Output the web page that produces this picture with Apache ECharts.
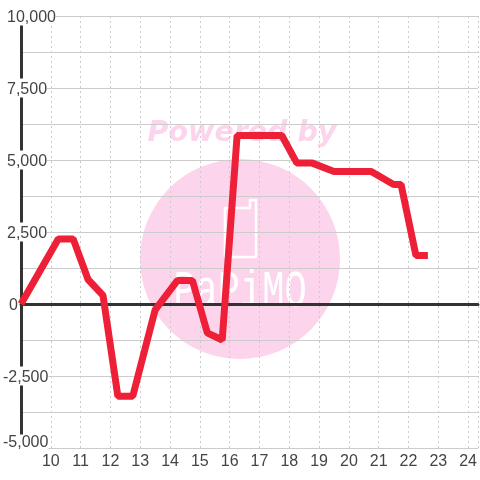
<!DOCTYPE html>
<html>
<head>
<meta charset="utf-8">
<style>html,body{margin:0;padding:0;background:#fff}#chart{width:480px;height:480px}</style>
<script src="https://cdn.jsdelivr.net/npm/echarts@6/dist/echarts.min.js"></script>
</head>
<body>
<div id="chart"></div>
<script>
var hours = [9, 10.25, 10.75, 11.25, 11.75, 12.25, 12.75, 13.5, 14.25, 14.75, 15.25, 15.75, 16.25, 17.75, 18.25, 18.75, 19.5, 20.75, 21.5, 21.75, 22.25, 22.65];
var values = [0, 2260, 2260, 850, 300, -3200, -3200, -200, 820, 820, -1000, -1250, 5850, 5850, 4900, 4900, 4600, 4600, 4150, 4150, 1680, 1680];
var watermarkText = 'Powered by';
var logoText = 'PaPiMO';

var points = [];
for (var i = 0; i < hours.length; i++) {
	points.push([hours[i], values[i]]);
}

function yLabel(v) {
	if (v % 2500 !== 0) return '';
	var s = Math.abs(v).toString().replace(/\B(?=(\d{3})+$)/g, ',');
	if (v === -5000) return '{low|-' + s + '}';
	if (v < 0) return '{neg|-' + s + '}';
	if (v === 0) return '{zero|0}';
	return '{pos|' + s + '}';
}

var labelBase = {fontSize: 16, fontFamily: 'Liberation Sans', color: '#444', backgroundColor: '#fff', height: 16, lineHeight: 16};

var option = {
	animation: false,
	backgroundColor: '#fff',
	grid: {left: 20, right: 0, top: 16, bottom: 32},
	xAxis: [{
		type: 'value', min: 9, max: 24.33, interval: 1,
		axisLine: {show: false, onZero: false},
		axisTick: {show: false},
		axisLabel: {
			fontSize: 16, fontFamily: 'Liberation Sans', color: '#444', margin: 6,
			showMinLabel: false, showMaxLabel: false, hideOverlap: false,
			formatter: function (v) { return v >= 10 && v <= 24 ? String(v) : ''; }
		},
		splitLine: {show: true, lineStyle: {color: '#ccc', width: 1, type: [2, 3]}}
	}, {
		type: 'value', min: 9, max: 24.33,
		axisLine: {show: true, onZero: true, lineStyle: {color: '#333', width: 3}},
		axisTick: {show: false},
		axisLabel: {show: false},
		splitLine: {show: false}
	}],
	yAxis: {
		type: 'value', min: -5000, max: 10000, interval: 1250,
		axisLine: {show: true, onZero: false, lineStyle: {color: '#333', width: 3}},
		axisTick: {show: false},
		axisLabel: {
			inside: true, margin: -18, align: 'left', verticalAlign: 'middle',
			formatter: yLabel,
			rich: {
				pos: Object.assign({padding: [3, 0, 0, 4]}, labelBase),
				neg: Object.assign({padding: [3, 0, 0, 0]}, labelBase),
				low: Object.assign({padding: [0, 0, 11, 0]}, labelBase),
				zero: Object.assign({padding: [3, 0, 0, 6]}, labelBase)
			}
		},
		splitLine: {show: true, lineStyle: {color: '#ccc', width: 1}}
	},
	graphic: {elements: [
		{type: 'circle', z: -10, shape: {cx: 240, cy: 259, r: 100}, style: {fill: '#fcd5ec'}},
		{type: 'text', z: -10, x: 242, y: 134, style: {text: watermarkText, fill: '#fcd5ec', font: 'italic bold 28.5px "DejaVu Sans"', align: 'center', verticalAlign: 'middle'}},
		{type: 'polygon', z: -9, shape: {points: [[225, 208], [250, 208], [250, 200], [256, 200], [256, 257], [225, 257]]}, style: {fill: 'none', stroke: '#fff', lineWidth: 2.5, lineJoin: 'round'}},
		{type: 'text', z: -9, x: 240, y: 292, scaleY: 1.4, style: {text: logoText, fill: '#fff', font: '37px "Liberation Mono"', align: 'center', verticalAlign: 'middle'}}
	]},
	series: [{
		type: 'line',
		xAxisIndex: 0,
		data: points,
		showSymbol: false,
		smooth: false,
		lineStyle: {color: '#ee2037', width: 7, join: 'bevel', cap: 'butt'},
		silent: true
	}]
};

var myChart = echarts.init(document.getElementById('chart'));
myChart.setOption(option);
</script>
</body>
</html>
